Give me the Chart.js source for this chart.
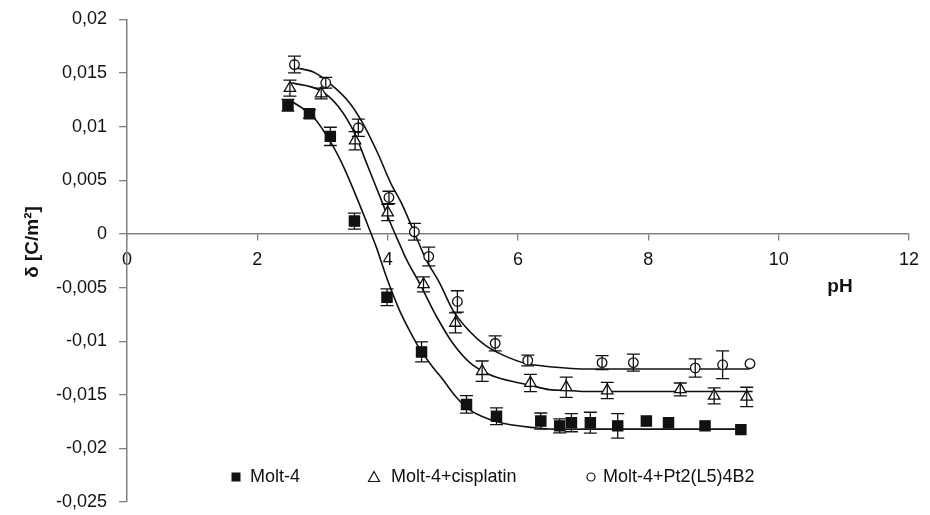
<!DOCTYPE html>
<html><head><meta charset="utf-8">
<script src="https://cdn.jsdelivr.net/npm/chart.js@4.4.0/dist/chart.umd.min.js"></script>
<style>html,body{margin:0;padding:0;background:#fff;} #wrap{width:930px;height:515px;position:relative;}</style>
</head><body><div id="wrap"><canvas id="c"></canvas></div>
<script>
// ---- data ----
const seriesNames = ['Molt-4', 'Molt-4+cisplatin', 'Molt-4+Pt2(L5)4B2'];

const molt4_pH    = [2.47, 2.80, 3.12, 3.49, 3.99, 4.52, 5.21, 5.67, 6.35, 6.64, 6.82, 7.11, 7.53, 7.97, 8.31, 8.87, 9.42];
const molt4_delta = [0.0120, 0.0112, 0.0091, 0.0012, -0.0059, -0.0110, -0.0159, -0.0170, -0.01745, -0.0179, -0.0176, -0.0176, -0.0179, -0.01745, -0.0176, -0.0179, -0.01825];
const molt4_err   = [0.00055, 0.0004, 0.00085, 0.00075, 0.00078, 0.00093, 0.00082, 0.00078, 0.00075, 0.00065, 0.00085, 0.00097, 0.00115, 0, 0, 0, 0];

const cis_pH    = [2.50, 2.98, 3.50, 4.00, 4.55, 5.04, 5.45, 6.19, 6.74, 7.37, 8.49, 9.01, 9.51];
const cis_delta = [0.0136, 0.0131, 0.0087, 0.0020, -0.0047, -0.0083, -0.0128, -0.0139, -0.0143, -0.0146, -0.0145, -0.0151, -0.0152];
const cis_err   = [0.00075, 0.0005, 0.00085, 0.00075, 0.0007, 0.00093, 0.00095, 0.0008, 0.00095, 0.00075, 0.0006, 0.00075, 0.0009];

const pt_pH    = [2.57, 3.05, 3.55, 4.02, 4.41, 4.63, 5.07, 5.65, 6.15, 7.29, 7.77, 8.72, 9.14, 9.56];
const pt_delta = [0.0158, 0.0141, 0.0099, 0.0034, 0.0002, -0.0021, -0.0063, -0.0102, -0.0118, -0.0120, -0.0120, -0.0125, -0.0122, -0.0121];
const pt_err   = [0.00078, 0.0005, 0.0008, 0.00058, 0.00078, 0.00087, 0.001, 0.0007, 0.0005, 0.00065, 0.0008, 0.00085, 0.0013, 0];

// fitted curves
const fitMolt4_pH    = [2.52, 2.86, 3.15, 3.32, 3.47, 3.67, 3.83, 3.98, 4.18, 4.36, 4.49, 4.69, 4.85, 5.05, 5.26, 5.67, 6.28, 6.64, 7.04, 9.50];
const fitMolt4_delta = [0.0124, 0.0109, 0.0083, 0.0063, 0.0042, 0.0012, -0.0013, -0.0040, -0.0071, -0.0093, -0.0107, -0.0124, -0.0136, -0.0152, -0.0164, -0.0175, -0.0181, -0.01823, -0.0182, -0.0182];

const fitCis_pH    = [2.52, 2.96, 3.24, 3.50, 3.67, 3.88, 4.05, 4.18, 4.29, 4.49, 4.75, 5.00, 5.26, 5.56, 5.87, 6.18, 6.48, 6.79, 7.04, 9.60];
const fitCis_delta = [0.0141, 0.0134, 0.0119, 0.0093, 0.0067, 0.0035, 0.0009, -0.0009, -0.0024, -0.0046, -0.0077, -0.0102, -0.0120, -0.0131, -0.0137, -0.0141, -0.01452, -0.0146, -0.0147, -0.0147];

const fitPt_pH    = [2.58, 2.86, 3.12, 3.42, 3.63, 3.85, 4.05, 4.21, 4.39, 4.59, 4.80, 5.00, 5.26, 5.50, 5.77, 6.13, 6.28, 7.04, 9.55];
const fitPt_delta = [0.0155, 0.0151, 0.0140, 0.0122, 0.0102, 0.0075, 0.0047, 0.0029, 0.0004, -0.0024, -0.0046, -0.0071, -0.0091, -0.0104, -0.0113, -0.0121, -0.01224, -0.0126, -0.0126];

const xTickValues = [0, 2, 4, 6, 8, 10, 12];
const xTickLabels = ['0', '2', '4', '6', '8', '10', '12'];
const yTickValues = [0.02, 0.015, 0.01, 0.005, 0, -0.005, -0.01, -0.015, -0.02, -0.025];
const yTickLabels = ['0,02', '0,015', '0,01', '0,005', '0', '-0,005', '-0,01', '-0,015', '-0,02', '-0,025'];
const yAxisTitle = 'δ [C/m²]';
const xAxisTitle = 'pH';

// ---- build ----
const pts = (xs, ys) => xs.map((x, i) => ({x: x, y: ys[i]}));
const FONT = "'Liberation Sans', Arial, Helvetica, sans-serif";
const AXIS_COLOR = '#808080';
const TEXT_COLOR = '#111111';
Chart.defaults.font.family = FONT;
Chart.defaults.color = TEXT_COLOR;

const markerStyles = [
  {pointStyle: 'rect', radius: 7.2, bg: '#111', border: '#111'},
  {pointStyle: 'triangle', radius: 6.6, bg: '#fff', border: '#111'},
  {pointStyle: 'circle', radius: 4.8, bg: '#fff', border: '#111'}
];
const pointSets = [
  pts(molt4_pH, molt4_delta), pts(cis_pH, cis_delta), pts(pt_pH, pt_delta)
];
const errSets = [molt4_err, cis_err, pt_err];
const fitSets = [
  pts(fitMolt4_pH, fitMolt4_delta), pts(fitCis_pH, fitCis_delta), pts(fitPt_pH, fitPt_delta)
];

const datasets = [];
pointSets.forEach((d, i) => datasets.push({
  type: 'scatter', label: seriesNames[i], data: d,
  pointStyle: markerStyles[i].pointStyle, pointRadius: markerStyles[i].radius,
  pointBackgroundColor: markerStyles[i].bg, pointBorderColor: markerStyles[i].border,
  pointBorderWidth: 1.3, showLine: false, errors: errSets[i]
}));
fitSets.forEach((d, i) => datasets.push({
  type: 'line', label: 'fit ' + seriesNames[i], data: d, showLine: true,
  borderColor: '#111', borderWidth: 1.6, pointRadius: 0, fill: false,
  cubicInterpolationMode: 'monotone'
}));

const errorBars = {
  id: 'errorBars',
  afterDatasetsDraw(chart) {
    const ctx = chart.ctx, xs = chart.scales.x, ys = chart.scales.y;
    ctx.save();
    ctx.strokeStyle = '#111'; ctx.lineWidth = 1.3;
    chart.data.datasets.forEach(ds => {
      if (!ds.errors) return;
      ds.data.forEach((p, i) => {
        const e = ds.errors[i];
        if (!e) return;
        const px = xs.getPixelForValue(p.x);
        const y1 = ys.getPixelForValue(p.y + e), y2 = ys.getPixelForValue(p.y - e);
        const cap = 6.5;
        ctx.beginPath();
        ctx.moveTo(px, y1); ctx.lineTo(px, y2);
        ctx.moveTo(px - cap, y1); ctx.lineTo(px + cap, y1);
        ctx.moveTo(px - cap, y2); ctx.lineTo(px + cap, y2);
        ctx.stroke();
      });
    });
    ctx.restore();
  }
};

const extras = {
  id: 'extras',
  afterDraw(chart) {
    const ctx = chart.ctx, a = chart.chartArea, ys = chart.scales.y;
    ctx.save();
    ctx.fillStyle = TEXT_COLOR;
    // y title
    ctx.font = 'bold 19px ' + FONT;
    ctx.textAlign = 'center'; ctx.textBaseline = 'middle';
    ctx.translate(33, (ys.getPixelForValue(0) + ys.getPixelForValue(-0.0015)) / 2);
    ctx.rotate(-Math.PI / 2);
    ctx.fillText(yAxisTitle, 0, 0);
    ctx.restore();
    ctx.save();
    ctx.fillStyle = TEXT_COLOR;
    ctx.font = 'bold 19px ' + FONT;
    ctx.textAlign = 'center'; ctx.textBaseline = 'alphabetic';
    ctx.fillText(xAxisTitle, a.right - 69, ys.getPixelForValue(0) + 58);
    // legend
    ctx.font = '18px ' + FONT;
    ctx.textBaseline = 'middle'; ctx.textAlign = 'left';
    const ly = a.bottom - 25;
    const items = [{mx: 236, tx: 250}, {mx: 374, tx: 391}, {mx: 591, tx: 603}];
    items.forEach((it, i) => {
      ctx.lineWidth = 1.2; ctx.strokeStyle = '#111';
      ctx.beginPath();
      if (i === 0) {
        ctx.fillStyle = '#111'; ctx.fillRect(it.mx - 4.5, ly - 4.5, 9, 9);
      } else if (i === 1) {
        ctx.moveTo(it.mx, ly - 5.5); ctx.lineTo(it.mx + 5.5, ly + 4.5); ctx.lineTo(it.mx - 5.5, ly + 4.5); ctx.closePath();
        ctx.stroke();
      } else {
        ctx.arc(it.mx, ly, 4, 0, Math.PI * 2); ctx.stroke();
      }
      ctx.fillStyle = TEXT_COLOR;
      ctx.fillText(seriesNames[i], it.tx, ly);
    });
    ctx.restore();
  }
};

new Chart(document.getElementById('c'), {
  type: 'scatter',
  data: {datasets: datasets},
  options: {
    responsive: true, maintainAspectRatio: false, animation: false,
    devicePixelRatio: 1,
    layout: {padding: {left: 0, right: 21, top: 19.5, bottom: 13}},
    plugins: {legend: {display: false}, tooltip: {enabled: false}},
    scales: {
      x: {
        type: 'linear', position: {y: 0}, min: 0, max: 12,
        afterBuildTicks: s => { s.ticks = xTickValues.map(v => ({value: v})); },
        afterFit: s => { s.paddingLeft = 0; s.paddingRight = 0; },
        ticks: {
          font: {size: 18}, color: TEXT_COLOR, padding: 9, maxRotation: 0, autoSkip: false,
          callback: (v) => { const i = xTickValues.indexOf(v); return i >= 0 ? xTickLabels[i] : ''; }
        },
        grid: {display: true, drawOnChartArea: false, drawTicks: true, tickLength: 6, color: AXIS_COLOR, lineWidth: 1.3},
        border: {display: true, color: AXIS_COLOR, width: 1.5}
      },
      y: {
        type: 'linear', position: 'left', min: -0.025, max: 0.02,
        afterBuildTicks: s => { s.ticks = yTickValues.map(v => ({value: v})); },
        afterFit: s => { s.width = 127; s.paddingTop = 0; s.paddingBottom = 0; },
        ticks: {
          font: {size: 18}, color: TEXT_COLOR, padding: 12, autoSkip: false,
          callback: (v) => {
            let best = 0;
            yTickValues.forEach((t, i) => { if (Math.abs(t - v) < Math.abs(yTickValues[best] - v)) best = i; });
            return yTickLabels[best];
          }
        },
        grid: {display: true, drawOnChartArea: false, drawTicks: true, tickLength: 8, color: AXIS_COLOR, lineWidth: 1.3},
        border: {display: true, color: AXIS_COLOR, width: 1.5}
      }
    }
  },
  plugins: [errorBars, extras]
});
</script>
</body></html>
